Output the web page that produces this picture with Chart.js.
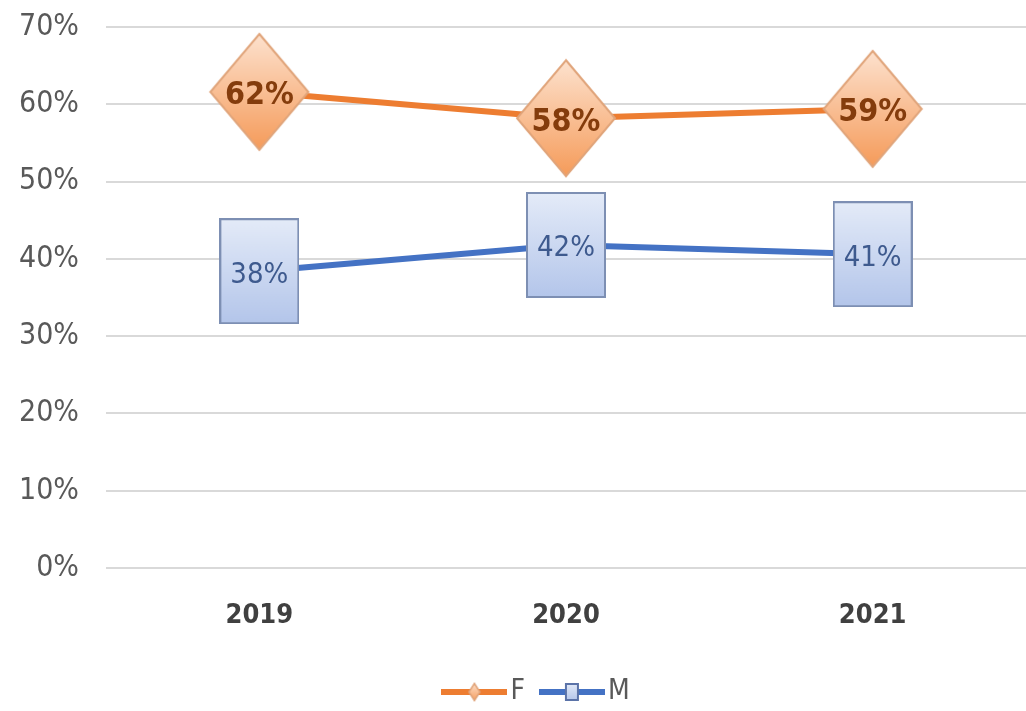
<!DOCTYPE html>
<html>
<head>
<meta charset="utf-8">
<script src="https://cdn.jsdelivr.net/npm/chart.js@4.4.1/dist/chart.umd.min.js"></script>
<style>
  html, body { margin: 0; padding: 0; background: #ffffff; }
  #wrap { width: 1026px; height: 711px; }
</style>
</head>
<body>
<div id="wrap"><canvas id="myChart" width="1026" height="711"></canvas></div>
<script>
const years = ["2019", "2020", "2021"]
const valuesF = [61.6, 58.2, 59.4]
const valuesM = [38.4, 41.8, 40.6]
const yTicks = [0, 10, 20, 30, 40, 50, 60, 70]

const fontName = "'DejaVu Sans Condensed', 'DejaVu Sans', sans-serif"

function makeDiamond(w, h, top, bottom, stroke, lw) {
    var c = document.createElement("canvas")
    c.width = w
    c.height = h
    var ctx = c.getContext("2d")
    var g = ctx.createLinearGradient(0, 0, 0, h)
    g.addColorStop(0, top)
    g.addColorStop(1, bottom)
    ctx.beginPath()
    ctx.moveTo(w / 2, lw)
    ctx.lineTo(w - lw, h / 2)
    ctx.lineTo(w / 2, h - lw)
    ctx.lineTo(lw, h / 2)
    ctx.closePath()
    ctx.fillStyle = g
    ctx.fill()
    ctx.lineWidth = lw
    ctx.strokeStyle = stroke
    ctx.stroke()
    return c
}

function makeBox(w, h, top, bottom, stroke, lw) {
    var c = document.createElement("canvas")
    c.width = w
    c.height = h
    var ctx = c.getContext("2d")
    var g = ctx.createLinearGradient(0, 0, 0, h)
    g.addColorStop(0, top)
    g.addColorStop(1, bottom)
    ctx.fillStyle = g
    ctx.fillRect(lw, lw, w - 2 * lw, h - 2 * lw)
    ctx.lineWidth = lw
    ctx.strokeStyle = stroke
    ctx.strokeRect(lw / 2, lw / 2, w - lw, h - lw)
    return c
}

function makeLegendIcon(color, marker) {
    var c = document.createElement("canvas")
    c.width = 66
    c.height = 24
    var ctx = c.getContext("2d")
    ctx.strokeStyle = color
    ctx.lineWidth = 6
    ctx.beginPath()
    ctx.moveTo(0, 12)
    ctx.lineTo(66, 12)
    ctx.stroke()
    ctx.drawImage(marker, 33 - marker.width / 2, 12 - marker.height / 2)
    return c
}

const diamond = makeDiamond(102, 120, "#fde3d0", "#f59a58", "#e0a47a", 2)
const box = makeBox(80, 106, "#e4ebf8", "#b3c5ea", "#7d8fb3", 2)
const smallDiamond = makeDiamond(14, 20, "#fde3d0", "#f59a58", "#e0a47a", 1.5)
const smallBox = makeBox(14, 18, "#e4ebf8", "#b3c5ea", "#5b73a8", 2)

const valueLabels = {
    id: "valueLabels",
    afterLayout(chart) {
        // nudge the legend to where it sits in the original
        chart.legend.left += 24
        chart.legend.right += 24
        chart.legend.top += 5
        chart.legend.bottom += 5
    },
    afterDatasetsDraw(chart) {
        var ctx = chart.ctx
        ctx.save()
        ctx.textAlign = "center"
        ctx.textBaseline = "middle"
        chart.data.datasets.forEach(function (ds, i) {
            var meta = chart.getDatasetMeta(i)
            ctx.font = (i === 0 ? "bold 32px " : "29px ") + fontName
            ctx.fillStyle = i === 0 ? "#843c0c" : "#3e5a8e"
            meta.data.forEach(function (pt, j) {
                ctx.fillText(Math.round(ds.data[j]) + "%", pt.x, pt.y + 4)
            })
        })
        ctx.restore()
    }
}

var ctx = document.getElementById("myChart").getContext("2d")
var chart = new Chart(ctx, {
    type: "line",
    data: {
        labels: years,
        datasets: [{
            label: "F",
            data: valuesF,
            borderColor: "#ed7d31",
            borderWidth: 6,
            pointStyle: diamond,
            clip: false
        }, {
            label: "M",
            data: valuesM,
            borderColor: "#4472c4",
            borderWidth: 6,
            pointStyle: box,
            clip: false
        }]
    },
    options: {
        responsive: false,
        animation: false,
        layout: { autoPadding: false, padding: { top: 27, right: -8, left: 0, bottom: 0 } },
        plugins: {
            tooltip: { enabled: false },
            legend: {
                position: "bottom",
                labels: {
                    usePointStyle: true,
                    pointStyleWidth: 44,
                    padding: 25,
                    color: "#595959",
                    font: { family: fontName, size: 28 },
                    generateLabels: function (chart) {
                        return [
                            { text: "F", pointStyle: makeLegendIcon("#ed7d31", smallDiamond), fontColor: "#595959", lineWidth: 0, datasetIndex: 0 },
                            { text: "M", pointStyle: makeLegendIcon("#4472c4", smallBox), fontColor: "#595959", lineWidth: 0, datasetIndex: 1 }
                        ]
                    }
                }
            }
        },
        scales: {
            x: {
                offset: true,
                grid: { display: false },
                border: { display: false },
                ticks: {
                    padding: 24,
                    color: "#404040",
                    font: { family: fontName, size: 27, weight: "bold" }
                },
                afterFit: function (scale) {
                    scale.height = 80
                    scale.paddingLeft = 0
                    scale.paddingRight = 0
                }
            },
            y: {
                min: 0,
                max: 70,
                afterBuildTicks: function (scale) {
                    scale.ticks = yTicks.map(function (v) { return { value: v } })
                },
                grid: { color: "#d9d9d9", lineWidth: 2, drawTicks: false },
                border: { display: false },
                ticks: {
                    padding: 27,
                    color: "#595959",
                    font: { family: fontName, size: 30 },
                    callback: function (v) { return v + "%" }
                },
                afterFit: function (scale) {
                    scale.width = 106
                    scale.paddingTop = 0
                    scale.paddingBottom = 0
                }
            }
        }
    },
    plugins: [valueLabels]
})
</script>
</body>
</html>
